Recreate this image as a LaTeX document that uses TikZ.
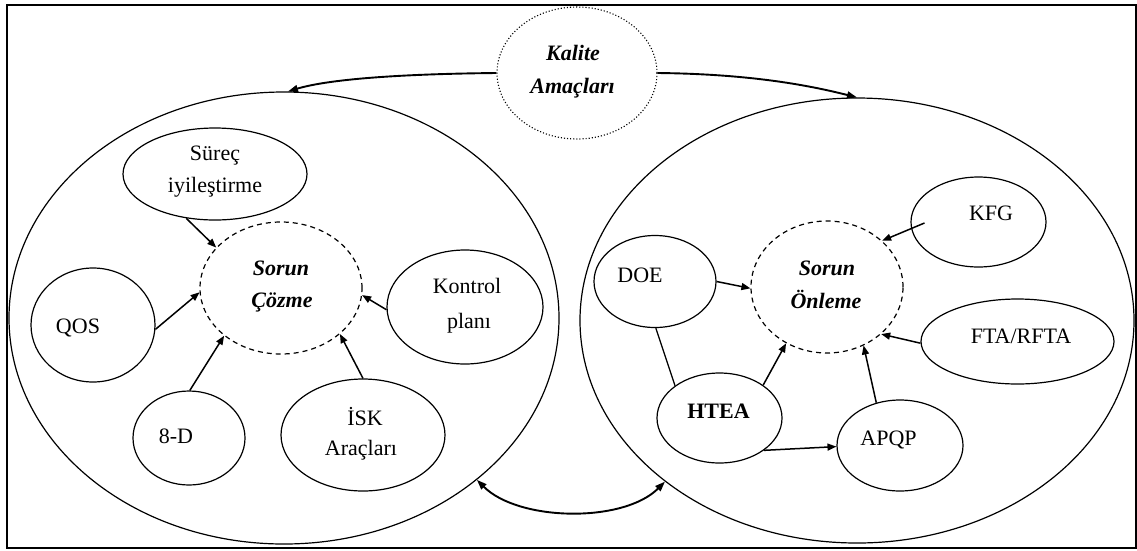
\documentclass[tikz,border=0pt]{standalone}
\usepackage{fontspec}
\setmainfont{Liberation Serif}
\usetikzlibrary{shapes.geometric,arrows.meta}
\begin{document}
\begin{tikzpicture}[x=1pt,y=-1pt,
  bubble/.style={draw, ellipse, line width=1.2pt, inner sep=0pt},
  dashbub/.style={bubble, dash pattern=on 5pt off 4pt},
  lbl/.style={anchor=base, inner sep=0pt, font=\fontsize{22}{26}\selectfont},
  blbl/.style={lbl, font=\fontsize{22}{26}\selectfont\bfseries\itshape},
  tip/.tip={Triangle[length=9pt,width=7pt]},
  bigtip/.tip={Triangle[length=10pt,width=7pt]},
  arr/.style={-tip, line width=1.5pt},
  plain/.style={line width=1.2pt},
  bigarr/.style={line width=1.9pt}]

\path[use as bounding box] (0,0) rectangle (1137,550);
\draw[line width=1.8pt] (7,5) rectangle (1136,548);

% the two large groups and the common goal
\node[bubble, minimum width=550, minimum height=452] (L) at (284,318) {};
\node[bubble, minimum width=554, minimum height=445] (R) at (857,320.5) {};
\node[draw, dotted, ellipse, line width=1.1pt, inner sep=0pt,
      minimum width=160, minimum height=132] (K) at (577,73) {};
\node[blbl] (K1) at (573,60) {Kalite};
\node[blbl] (K2) at (572.5,93) {Amaçları};

% problem solving
\node[bubble, minimum width=184, minimum height=92] (sur) at (215,174) {};
\node[lbl] (sur1) at (215,160) {Süreç};
\node[lbl] (sur2) at (215,192) {iyileştirme};
\node[dashbub, minimum width=162, minimum height=132] (coz) at (281,288) {};
\node[blbl] (coz1) at (281,275.5) {Sorun};
\node[blbl] (coz2) at (282,307) {Çözme};
\node[bubble, minimum width=124, minimum height=114] (qos) at (93,325) {};
\node[lbl] (qos1) at (78,333) {QOS};
\node[bubble, minimum width=112, minimum height=94] (d8) at (189,438) {};
\node[lbl] (d81) at (176,443) {8-D};
\node[bubble, minimum width=164, minimum height=112] (isk) at (363,435) {};
\node[lbl] (isk1) at (365,425) {İSK};
\node[lbl] (isk2) at (361,455) {Araçları};
\node[bubble, minimum width=156, minimum height=114] (kon) at (465,307) {};
\node[lbl] (kon1) at (467,293) {Kontrol};
\node[lbl] (kon2) at (469,328) {planı};

% problem prevention
\node[dashbub, minimum width=152, minimum height=132] (onl) at (827,287) {};
\node[blbl] (onl1) at (827,275) {Sorun};
\node[blbl] (onl2) at (826,308) {Önleme};
\node[bubble, minimum width=122, minimum height=92] (doe) at (655,281.5) {};
\node[lbl] (doe1) at (640,282) {DOE};
\node[bubble, minimum width=125, minimum height=90] (htea) at (719.5,418) {};
\node[lbl, font=\fontsize{22}{26}\selectfont\bfseries] (htea1) at (718.5,418) {HTEA};
\node[bubble, minimum width=126, minimum height=91] (apqp) at (900,445.5) {};
\node[lbl] (apqp1) at (888.5,445) {APQP};
\node[bubble, minimum width=135, minimum height=90] (kfg) at (978.5,222) {};
\node[lbl] (kfg1) at (991,220) {KFG};
\node[bubble, minimum width=193, minimum height=85] (fta) at (1017.5,341.5) {};
\node[lbl] (fta1) at (1021,343) {FTA/RFTA};

% inner connectors
\draw[arr] (sur.237) -- (coz.148);
\draw[arr] (qos.356) -- (coz.183);
\draw[arr] (d8.89) -- (coz.220);
\draw[arr] (isk.90) -- (coz.322);
\draw[arr] (kon.182) -- (coz.355);
\draw[arr] ([shift={(-54,1)}]kfg.center) -- (onl.40);
\draw[arr] (doe.0) -- (onl.181);
\draw[plain] (doe.271) -- (htea.144);
\draw[arr] (htea.37) -- (onl.234);
\draw[arr] (apqp.119) -- (onl.302);
\draw[arr] (fta.181) -- (onl.319);
\draw[arr] (htea.324) -- (apqp.181);

% links between the groups
\draw[bigarr, -bigtip] (K.west) .. controls +(-100,1) and +(40,-12) .. (L.89);
\draw[bigarr, -bigtip] (K.east) .. controls +(100,1) and +(-40,-10) .. (R.north);
\draw[bigarr, bigtip-bigtip]
  (L.320) to[out=-45,in=-135,looseness=0.8] (R.220);
\end{tikzpicture}
\end{document}
